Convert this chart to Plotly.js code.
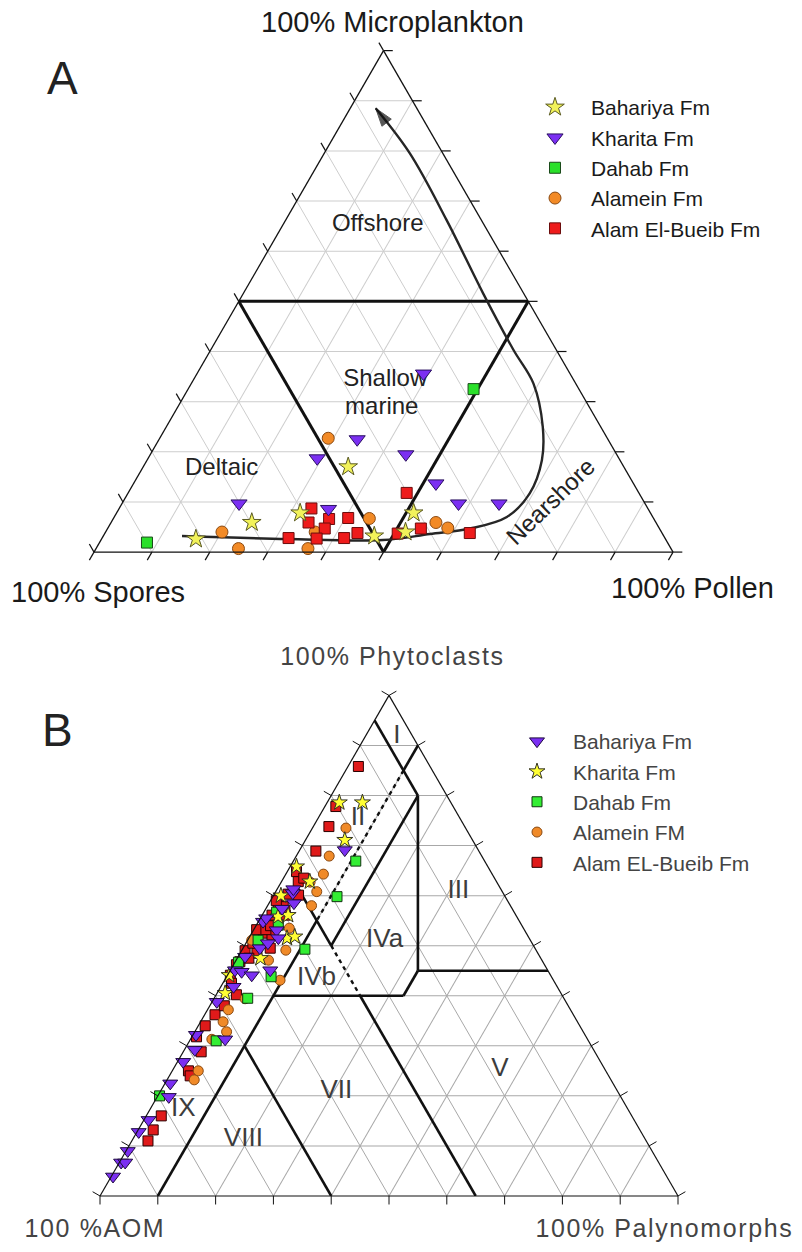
<!DOCTYPE html>
<html><head><meta charset="utf-8">
<script src="https://cdn.plot.ly/plotly-3.0.1.min.js"></script>
<style>
html,body{margin:0;padding:0;background:#fff}
#chart{width:802px;height:1252px}
.legend2 text.legendtext{letter-spacing:1.8px}
.annotation[data-index="6"] text,.annotation[data-index="7"] text,.annotation[data-index="8"] text{letter-spacing:1.6px}
</style>
</head><body><div id="chart"></div>
<script>
// ===== Panel A (a = Microplankton top, b = Spores left, c = Pollen right; b = 100 - a - c)
const A_bahariya_a = [17.0, 5.9, 7.8, 7.8, 4.0, 2.6, 3.2];
const A_bahariya_c = [35.4, 24.3, 31.7, 51.3, 51.8, 16.3, 46.8];
const A_kharita_a = [35.6, 22.5, 18.7, 19.5, 13.7, 9.7, 8.6, 9.7, 9.7];
const A_kharita_c = [39.1, 34.2, 29.2, 44.1, 52.2, 20.2, 36.2, 58.1, 65.1];
const A_dahab_a = [32.5, 1.9];
const A_dahab_c = [49.3, 8.2];
const A_alamein_a = [22.7, 4.0, 0.7, 0.7, 4.0, 6.7, 5.9, 4.8];
const A_alamein_c = [29.1, 20.1, 24.6, 36.6, 36.2, 44.2, 56.1, 58.7];
const A_alam_a = [8.7, 5.9, 6.6, 4.7, 6.8, 3.8, 2.8, 2.8, 2.7, 11.8, 4.7, 3.8, 3.7];
const A_alam_c = [33.2, 34.1, 37.3, 37.5, 40.5, 43.6, 41.8, 32.2, 37.1, 48.1, 54.1, 63.0, 50.6];
// trend curve (Deltaic -> Nearshore -> Offshore)
const A_curve_a = [3.2, 2.6, 2.4, 3.6, 4.7, 7.0, 11.7, 18.3, 25.0, 33.6, 40.3, 51.6, 66.2, 79.5, 88.5];
const A_curve_c = [13.6, 32.1, 48.7, 56.2, 62.6, 67.8, 69.4, 68.2, 65.0, 59.1, 52.3, 41.4, 27.8, 14.8, 4.4];
// field boundary (inner triangle)
const A_zone_a = [50, 50, 0, 50];
const A_zone_c = [0, 50, 50, 0];
const A_label_text = ['Offshore', 'Shallow', 'marine', 'Deltaic'];
const A_label_a = [65.2, 34.4, 28.8, 16.5];
const A_label_c = [16.4, 33.1, 35.3, 13.8];

// ===== Panel B (a = Phytoclasts top, b = AOM left, c = Palynomorphs right)
const B_bahariya_a = [69.1, 60.5, 54.8, 53.1, 51.5, 49.5, 45.1, 44.8, 44.1, 45.1, 41.8, 38.8, 32.2, 31.3, 29.2, 26.8, 22.5, 19.8, 15.2, 12.8, 9.0, 6.7, 6.7, 3.9, 57.4, 55.5, 61.3, 58.5, 50.5, 47.8];
const B_bahariya_c = [7.8, 3.1, 0.8, 4.0, 5.1, 2.9, 0.8, 2.1, 4.2, 6.9, 2.2, 0.8, 0.5, 6.0, 1.8, 1.0, 0.9, 2.0, 0.8, 0.3, 0.3, 0.3, 1.0, 0.3, 2.8, 1.0, 2.8, 4.3, 3.8, 1.2];
const B_kharita_a = [78.6, 78.6, 71.1, 65.8, 62.8, 55.8, 51.5, 51.8, 40.5, 44.1, 56.1, 60.0, 47.5];
const B_kharita_c = [2.1, 6.1, 6.8, 1.1, 4.9, 2.9, 6.6, 7.8, 1.4, 0.3, 4.5, 1.3, 4.0];
const B_dahab_a = [66.9, 59.8, 54.1, 51.1, 49.3, 43.8, 39.5, 31.0, 20.0, 46.7, 56.7];
const B_dahab_c = [10.8, 11.1, 3.8, 1.8, 10.8, 7.7, 5.8, 4.6, 0.3, 0.6, 2.2];
const B_alamein_a = [73.5, 67.9, 60.8, 58.0, 49.1, 47.1, 51.1, 43.1, 34.8, 37.2, 31.3, 32.8, 25.0, 23.2, 62.7, 39.4, 64.3, 53.5];
const B_alamein_c = [5.8, 5.7, 7.1, 7.6, 7.6, 5.6, 0.7, 9.6, 3.9, 3.6, 3.7, 5.5, 4.5, 4.7, 5.0, 5.4, 6.5, 6.0];
const B_alam_a = [85.8, 77.8, 73.8, 68.9, 64.8, 62.8, 60.3, 60.1, 58.1, 57.8, 56.1, 56.1, 52.5, 52.1, 49.0, 49.5, 48.5, 44.1, 46.8, 40.2, 36.2, 31.8, 28.8, 25.0, 24.0, 16.0, 13.2, 11.0, 53.2, 53.2, 46.2, 50.5, 47.5, 42.5, 38.0, 34.0, 59.0, 63.5, 57.0, 54.0];
const B_alam_c = [1.8, 1.9, 2.7, 2.9, 1.6, 2.9, 2.4, 4.3, 1.8, 2.8, 1.7, 4.0, 2.0, 3.7, 0.6, 4.7, 2.9, 0.5, 0.8, 3.5, 1.8, 0.8, 3.1, 2.8, 3.6, 2.6, 2.6, 2.8, 0.5, 2.1, 0.5, 1.2, 2.0, 1.5, 2.5, 1.2, 1.0, 3.5, 3.5, 2.5];
// field boundaries: segments as [a1, c1, a2, c2]
const B_solid_segments = [
  [95, 0, 80, 15], [90, 10, 85, 10], [55, 10, 0, 10], [62, 3, 50, 15], [50, 15, 80, 15],
  [80, 15, 45, 32.5], [45, 32.5, 45, 55], [45, 32.5, 40, 32.5], [40, 32.5, 40, 10],
  [40, 25, 0, 65], [30, 10, 0, 40]
];
const B_dashed_segments = [[85, 10, 55, 10], [50, 15, 40, 25]];
const B_label_text = ['I', 'II', 'III', 'IVa', 'IVb', 'V', 'VII', 'VIII', 'IX'];
const B_label_a = [91.7, 75.5, 60.8, 51.1, 43.5, 25.2, 20.8, 11.2, 17.2];
const B_label_c = [5.5, 6.9, 31.6, 23.7, 15.7, 56.6, 30.5, 19.2, 5.8];

const tickValues = [0, 10, 20, 30, 40, 50, 60, 70, 80, 90, 100];

const FONT = 'Liberation Sans, Arial, sans-serif';
const W = 802, H = 1252;
const domA = {x: [0.1172, 0.8392], y: [0.5543, 0.9643]};
const domB = {x: [0.1247, 0.8454], y: [0.0406, 0.4487]};
const bOf = (a, c) => a.map((v, i) => (v === null ? null : 100 - v - c[i]));

function pts(subplot, a, c, name, legend, rank, marker) {
  return {type: 'scatterternary', subplot, a, b: bOf(a, c), c, mode: 'markers', name,
    legend, legendrank: rank, marker, hoverinfo: 'skip', cliponaxis: false};
}
function segTrace(subplot, segs, line) {
  const a = [], c = [];
  segs.forEach(s => { a.push(s[0], s[2], null); c.push(s[1], s[3], null); });
  return {type: 'scatterternary', subplot, a, b: bOf(a, c), c, mode: 'lines',
    line, showlegend: false, hoverinfo: 'skip'};
}
// triangle geometry, exactly as Plotly lays out a ternary subplot inside its domain
function triGeom(dom) {
  const wmax = (dom.x[1] - dom.x[0]) * W, hmax = (dom.y[1] - dom.y[0]) * H;
  const r = 2 / Math.sqrt(3);
  let w, h;
  if (wmax > r * hmax) { h = hmax; w = h * r; } else { w = wmax; h = w / r; }
  return {x0: W * (dom.x[0] + dom.x[1]) / 2 - w / 2, y0: H * (1 - (dom.y[0] + dom.y[1]) / 2) - h / 2, w, h};
}
// tick marks outside the triangle, as paper-referenced line shapes
function tickShapes(dom, kind, d, color, width) {
  const g = triGeom(dom);
  const toPaper = (a, c) => [(g.x0 + g.w * (c + a / 2) / 100) / W, 1 - (g.y0 + g.h * (1 - a / 100)) / H];
  const shapes = [];
  tickValues.forEach(v => {
    const segs = kind === 'ext'
      ? [[v, 100 - v, v, 100 - v + d], [v, 0, v + d, -d], [0, v, -d, v]]
      : [[v, 0, v + d / 2, -d], [0, v, -d, v + d / 2], [v, 100 - v, v + d / 2, 100 - v + d / 2]];
    segs.forEach(s => {
      const p = toPaper(s[0], s[1]), q = toPaper(s[2], s[3]);
      shapes.push({type: 'line', xref: 'paper', yref: 'paper', x0: p[0], y0: p[1], x1: q[0], y1: q[1],
        line: {color, width}, layer: 'above'});
    });
  });
  return shapes;
}

const traces = [];
// ---- A
traces.push(segTrace('ternary', [[A_zone_a[0], A_zone_c[0], A_zone_a[1], A_zone_c[1]],
  [A_zone_a[1], A_zone_c[1], A_zone_a[2], A_zone_c[2]], [A_zone_a[2], A_zone_c[2], A_zone_a[3], A_zone_c[3]]],
  {color: '#111', width: 3}));
traces.push({type: 'scatterternary', subplot: 'ternary', a: A_curve_a, b: bOf(A_curve_a, A_curve_c), c: A_curve_c,
  mode: 'lines', line: {color: '#262626', width: 2.4, shape: 'spline', smoothing: 1}, showlegend: false, hoverinfo: 'skip'});
const nA = A_curve_a.length;
traces.push({type: 'scatterternary', subplot: 'ternary', a: A_curve_a.slice(nA - 2), c: A_curve_c.slice(nA - 2),
  b: bOf(A_curve_a.slice(nA - 2), A_curve_c.slice(nA - 2)), mode: 'markers',
  marker: {symbol: 'arrow', size: [0, 19], angleref: 'previous', color: '#111', line: {color: '#111', width: 1}},
  showlegend: false, hoverinfo: 'skip'});
traces.push({type: 'scatterternary', subplot: 'ternary', a: A_label_a, b: bOf(A_label_a, A_label_c), c: A_label_c,
  mode: 'text', text: A_label_text, textposition: 'middle center',
  textfont: {family: FONT, size: 24, color: '#222'}, showlegend: false, hoverinfo: 'skip'});
traces.push(pts('ternary', A_alamein_a, A_alamein_c, 'Alamein Fm', 'legend', 4,
  {symbol: 'circle', size: 12, color: '#f28a26', line: {color: '#8a4a12', width: 1}}));
traces.push(pts('ternary', A_alam_a, A_alam_c, 'Alam El-Bueib Fm', 'legend', 5,
  {symbol: 'square', size: 11, color: '#ee1b1b', line: {color: '#6a0c0c', width: 1}}));
traces.push(pts('ternary', A_bahariya_a, A_bahariya_c, 'Bahariya Fm', 'legend', 1,
  {symbol: 'star', size: 14, color: '#f2f25a', line: {color: '#5a5a22', width: 1}}));
traces.push(pts('ternary', A_kharita_a, A_kharita_c, 'Kharita Fm', 'legend', 2,
  {symbol: 'triangle-down', size: 14, color: '#7b2ff2', line: {color: '#2a1060', width: 1}}));
traces.push(pts('ternary', A_dahab_a, A_dahab_c, 'Dahab Fm', 'legend', 3,
  {symbol: 'square', size: 11, color: '#2ae02a', line: {color: '#1a4a1a', width: 1}}));

// ---- B
traces.push(segTrace('ternary2', B_solid_segments, {color: '#111', width: 2.6}));
traces.push(segTrace('ternary2', B_dashed_segments, {color: '#111', width: 2.4, dash: '4px,4px'}));
traces.push({type: 'scatterternary', subplot: 'ternary2', a: B_label_a, b: bOf(B_label_a, B_label_c), c: B_label_c,
  mode: 'text', text: B_label_text, textposition: 'middle center',
  textfont: {family: FONT, size: 26, color: '#3c3c3c'}, showlegend: false, hoverinfo: 'skip'});
traces.push(pts('ternary2', B_alam_a, B_alam_c, 'Alam EL-Bueib Fm', 'legend2', 5,
  {symbol: 'square', size: 10, color: '#e01a1a', line: {color: '#2a0000', width: 1}}));
traces.push(pts('ternary2', B_alamein_a, B_alamein_c, 'Alamein FM', 'legend2', 4,
  {symbol: 'circle', size: 10, color: '#f08a28', line: {color: '#8a4a12', width: 1}}));
traces.push(pts('ternary2', B_dahab_a, B_dahab_c, 'Dahab Fm', 'legend2', 3,
  {symbol: 'square', size: 10, color: '#33ee33', line: {color: '#113311', width: 1}}));
traces.push(pts('ternary2', B_kharita_a, B_kharita_c, 'Kharita Fm', 'legend2', 2,
  {symbol: 'star', size: 12, color: '#ffff33', line: {color: '#333322', width: 1}}));
traces.push(pts('ternary2', B_bahariya_a, B_bahariya_c, 'Bahariya Fm', 'legend2', 1,
  {symbol: 'triangle-down', size: 13, color: '#7b2ff2', line: {color: '#1e0a40', width: 1}}));

function axisA() {
  return {title: {text: ''}, min: 0, showline: true, linecolor: '#111', linewidth: 1.3,
    showgrid: true, gridcolor: '#cdcdcd', gridwidth: 1, tick0: 0, dtick: 10,
    showticklabels: false, ticks: ''};
}
function axisB() {
  return {title: {text: ''}, min: 0, showline: true, linecolor: '#111', linewidth: 1.2,
    showgrid: true, gridcolor: '#a8a8a8', gridwidth: 1, tick0: 0, dtick: 10,
    showticklabels: false, ticks: ''};
}
const px = (x) => x / W, py = (y) => 1 - y / H;
function ann(text, x, y, size, color, extra) {
  return Object.assign({text, x: px(x), y: py(y), xref: 'paper', yref: 'paper', showarrow: false,
    xanchor: 'center', yanchor: 'middle', font: {family: FONT, size, color}}, extra || {});
}

const layout = {
  width: W, height: H, margin: {l: 0, r: 0, t: 0, b: 0},
  paper_bgcolor: '#fff', plot_bgcolor: '#fff', showlegend: true,
  ternary: {sum: 100, domain: domA, bgcolor: 'rgba(0,0,0,0)',
    aaxis: axisA(), baxis: axisA(), caxis: axisA()},
  ternary2: {sum: 100, domain: domB, bgcolor: 'rgba(0,0,0,0)',
    aaxis: axisB(), baxis: axisB(), caxis: axisB()},
  legend: {x: px(519), xanchor: 'left', y: py(87), yanchor: 'top', itemwidth: 62,
    font: {family: FONT, size: 21, color: '#1a1a1a'}, bgcolor: 'rgba(0,0,0,0)', traceorder: 'normal'},
  legend2: {x: px(501), xanchor: 'left', y: py(721), yanchor: 'top', itemwidth: 62,
    font: {family: FONT, size: 21, color: '#444'}, bgcolor: 'rgba(0,0,0,0)', traceorder: 'normal'},
  shapes: tickShapes(domA, 'ext', 1.6, '#111', 1.2).concat(tickShapes(domB, 'perp', 1.7, '#111', 1)),
  annotations: [
    ann('A', 62, 78, 46, '#222'),
    ann('100% Microplankton', 392, 22, 29, '#1a1a1a'),
    ann('100% Spores', 98, 592, 29, '#1a1a1a'),
    ann('100% Pollen', 692, 588, 29, '#1a1a1a'),
    ann('Nearshore', 550, 501, 24, '#222', {textangle: -44}),
    ann('B', 57, 730, 46, '#222'),
    ann('100% Phytoclasts', 392, 656, 25, '#444'),
    ann('100 %AOM', 95, 1228, 25, '#444'),
    ann('100% Palynomorphs', 664, 1228, 25, '#444')
  ]
};

Plotly.newPlot('chart', traces, layout, {staticPlot: true, displayModeBar: false});
</script>
</body></html>
